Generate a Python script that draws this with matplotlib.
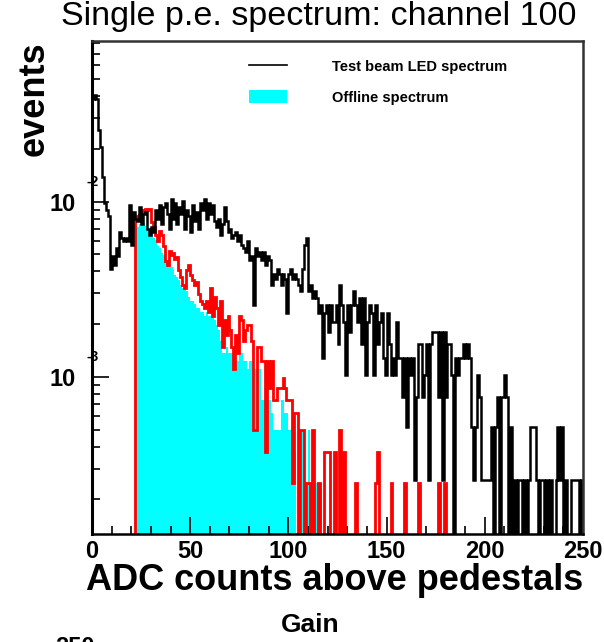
import numpy as np
import matplotlib
matplotlib.use("Agg")
import matplotlib.pyplot as plt
from matplotlib import ticker
from matplotlib.lines import Line2D
from matplotlib.patches import Patch
from matplotlib.transforms import offset_copy

plt.rcParams["font.family"] = ["Liberation Sans", "DejaVu Sans"]

# Test beam LED spectrum: events per ADC count, bins 0..249
led_counts = [
    150, 158, 150, 100, 80, 54, 38, 35, 32, 16,
    19, 17, 21, 19, 26, 24, 23, 24, 23, 37,
    22, 34, 31, 30, 36, 29, 33, 34, 27, 25,
    28, 26, 35, 31, 37, 29, 36, 38, 33, 27,
    40, 31, 38, 29, 36, 33, 39, 27, 35, 32,
    26, 37, 30, 34, 27, 38, 35, 40, 31, 38,
    33, 37, 30, 28, 31, 25, 29, 36, 30, 26,
    27, 24, 25, 26, 23, 25, 22, 21, 20, 23,
    18, 19, 10, 21, 19, 20, 18, 20, 17, 19,
    18, 13, 15, 14, 16, 15, 13, 15, 14, 9,
    15, 16, 14, 15, 14, 13, 12, 16, 22, 24,
    12, 13, 11, 12, 11, 9, 10, 5, 9, 10,
    7, 10, 8, 8, 10, 6, 13, 10, 8, 4,
    10, 7, 10, 12, 10, 8, 11, 6, 11, 4,
    8, 10, 9, 4, 10, 6, 8, 9, 5, 4,
    9, 6, 4, 5, 4, 8, 5, 5, 3, 5,
    2, 5, 4, 5, 1, 3, 6, 6, 3, 4,
    6, 1, 6, 7, 7, 7, 3, 7, 1, 7,
    3, 6, 6, 4, 0, 5, 4, 5, 5, 6,
    5, 6, 5, 2, 1, 2, 4, 3, 1, 1,
    1, 1, 1, 2, 0, 2, 3, 0, 3, 3,
    4, 3, 0, 2, 0, 1, 0, 1, 1, 0,
    1, 0, 1, 2, 2, 2, 1, 0, 1, 1,
    0, 1, 0, 1, 0, 0, 1, 2, 1, 2,
    0, 1, 0, 0, 1, 1, 1, 1, 0, 1,
]
led_entries = 3880

# Offline spectrum, starting at ADC count 22
offline_start = 22
offline_counts = [
    66, 67, 68, 72, 70, 73, 72, 73,
    62, 58, 52, 48, 55, 52, 45, 37, 35, 42,
    40, 41, 38, 39, 33, 30, 27, 26, 33, 35,
    31, 29, 27, 28, 24, 22, 21, 20, 22, 19,
    26, 18, 23, 20, 16, 22, 12, 17, 14, 18,
    15, 12, 9, 14, 11, 18, 17, 13, 15, 16,
    16, 13, 4, 4, 12, 12, 10, 10, 3, 10,
    7, 10, 6, 6, 7, 7, 7, 8, 7, 6,
    6, 6, 2, 5, 5, 1, 4, 4, 1, 2,
    2, 1, 4, 1, 0, 2, 1, 0, 3, 3,
    3, 1, 0, 3, 1, 1, 4, 1, 3, 0,
    1, 0, 1, 0, 2, 1, 0, 1, 0, 0,
    1, 0, 1, 0, 2, 3, 0, 1, 0, 0,
    1, 0, 2, 0, 1, 0, 0, 1, 0, 2,
    0, 1, 0, 1, 0, 0, 2, 0, 1, 0,
    0, 1, 0, 0, 1, 0, 2, 0, 1, 2,
]
offline_fill_counts = [
    58, 58, 60, 61, 61, 59, 57, 56,
    53, 50, 49, 45, 44, 41, 40, 38, 36, 35,
    34, 33, 31, 30, 29, 27, 26, 26, 25, 23,
    22, 22, 21, 20, 20, 19, 19, 18, 19, 18,
    18, 19, 17, 16, 15, 13, 11, 11, 12, 11,
    11, 11, 11, 10, 10, 11, 11, 10, 10, 9,
    10, 10, 9, 9, 9, 9, 6, 6, 6, 6,
    6, 5, 4, 4, 4, 4, 6, 6, 5, 5,
    4, 4, 3, 3, 0, 0, 0, 4, 0, 0,
    4, 0, 0, 2, 2, 2, 2, 0,
]
offline_entries = 8070

x_ticks = [0, 50, 100, 150, 200, 250]
y_decades = [1e-3, 1e-2]
y_exponents = ["-3", "-2"]

floor = 1e-9


def density(counts, entries):
    """Normalised bin contents, empty bins pushed below the axis"""
    return np.clip(np.asarray(counts, float) / entries, floor, None)


fig = plt.figure(figsize=(6.04, 6.42), dpi=100)
ax = fig.add_axes([92 / 604, 1 - 534 / 642, 491 / 604, 493 / 642])

fill_edges = offline_start + np.arange(len(offline_fill_counts) + 1)
red_edges = offline_start + np.arange(len(offline_counts) + 1)
led_edges = np.arange(len(led_counts) + 1)

ax.stairs(density(offline_fill_counts, offline_entries), fill_edges, fill=True,
          color="#00ffff", lw=0, baseline=floor, zorder=1)
ax.stairs(density(offline_counts, offline_entries), red_edges, color="#ff0000",
          lw=2.0, baseline=floor, zorder=2)
ax.stairs(density(led_counts, led_entries), led_edges, color="black",
          lw=1.8, baseline=floor, zorder=3)

ax.set_yscale("log")
ax.set_xlim(0, 250)
ax.set_ylim(1.27e-4, 0.0826)

ax.set_xticks(x_ticks, labels=[str(t) for t in x_ticks], fontsize=17, fontweight="bold")
ax.xaxis.set_minor_locator(ticker.MultipleLocator(10))
ax.set_yticks(y_decades, labels=["10"] * len(y_decades), fontsize=17, fontweight="bold")
ax.yaxis.set_minor_locator(ticker.LogLocator(subs=np.arange(2, 10)))
ax.yaxis.set_minor_formatter(ticker.NullFormatter())
ax.tick_params(which="both", direction="in", width=1.2, color="black")
ax.tick_params(which="major", length=12)
ax.tick_params(which="minor", length=6)
ax.tick_params(axis="x", which="major", pad=4)
ax.tick_params(axis="y", which="major", pad=12)

exp_trans = offset_copy(ax.get_yaxis_transform(), fig=fig, y=20, units="dots")
for val, exp in zip(y_decades, y_exponents):
    ax.text(-0.012, val, exp, transform=exp_trans, fontsize=10, fontweight="bold",
            ha="left", va="center", zorder=0)

for side in ("top", "right"):
    ax.spines[side].set_linewidth(1.8)
    ax.spines[side].set_color("#333333")
ax.spines["left"].set_linewidth(2.2)
ax.spines["bottom"].set_linewidth(1.8)
for s in ax.spines.values():
    s.set_zorder(4)

ax.set_xlabel("ADC counts above pedestals", fontsize=26, fontweight="bold",
              loc="right", labelpad=0)
ax.set_ylabel("events", fontsize=26, fontweight="bold", loc="top", labelpad=-2)

handles = [
    Line2D([], [], color="black", lw=1.2),
    Patch(facecolor="#00ffff", edgecolor="none"),
]
ax.legend(handles, ["Test beam LED spectrum", "Offline spectrum"],
          loc="upper left", bbox_to_anchor=(249 / 604, 1 - 59 / 642),
          bbox_transform=fig.transFigure, frameon=False, borderpad=0,
          borderaxespad=0, handlelength=2.6, handleheight=1.0,
          handletextpad=3.1, labelspacing=1.15,
          prop={"weight": "bold", "size": 10.5})

fig.text(319 / 604, 1 - 16 / 642, "Single p.e. spectrum: channel 100",
         ha="center", va="center", fontsize=24.5)
fig.text(310 / 604, 1 - 625 / 642, "Gain", ha="center", va="center",
         fontsize=19, fontweight="bold")
fig.text(75 / 604, 1 - 654 / 642, "250", ha="center", va="baseline",
         fontsize=17, fontweight="bold")

fig.savefig("out.png", dpi=100)
